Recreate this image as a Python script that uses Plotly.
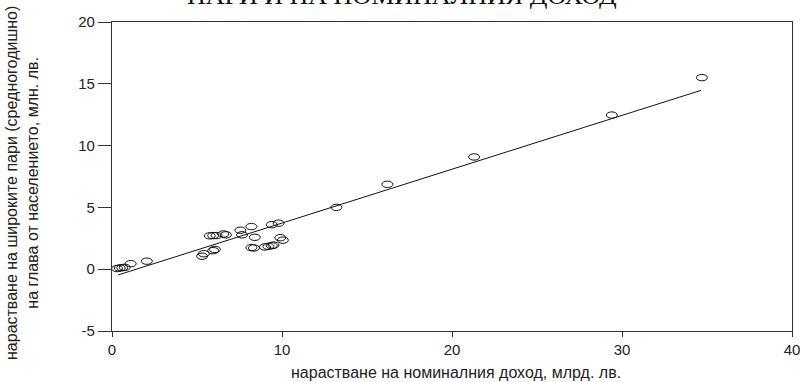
import plotly.graph_objects as go

# Observations: growth of nominal income (bn lv) vs growth of broad money per capita (mn lv)
income_growth = [0.3, 0.45, 0.6, 0.75, 1.1, 2.05,
                 5.3, 5.4, 5.95, 6.05,
                 5.75, 5.95, 6.15, 6.55, 6.7,
                 7.55, 8.2, 7.65, 8.4,
                 8.2, 8.35,
                 9.0, 9.2, 9.4, 9.5,
                 9.4, 9.8, 9.9, 10.05,
                 13.2, 16.2, 21.3, 29.4, 34.7]
money_growth = [0.05, 0.1, 0.12, 0.15, 0.45, 0.65,
                1.05, 1.25, 1.5, 1.6,
                2.7, 2.72, 2.72, 2.85, 2.78,
                3.15, 3.45, 2.78, 2.58,
                1.75, 1.72,
                1.8, 1.85, 1.9, 1.95,
                3.6, 3.72, 2.55, 2.35,
                5.0, 6.87, 9.08, 12.47, 15.5]

# Fitted regression line end points
fit_x = [0.35, 34.65]
fit_y = [-0.47, 14.47]

x_ticks = [0, 10, 20, 30, 40]
y_ticks = [-5, 0, 5, 10, 15, 20]

title_text = "ПАРИ И НА НОМИНАЛНИЯ ДОХОД"
x_title = "нарастване на номиналния доход, млрд. лв."
y_title = "нарастване на широките пари (средногодишно)<br>на глава от населението, млн. лв."

# plot area in pixels
W, H = 800, 382
L, R, T, B = 112, 8, 22, 51
PW, PH = W - L - R, H - T - B

fig = go.Figure()

fig.add_trace(go.Scatter(
    x=fit_x, y=fit_y, mode="lines",
    line=dict(color="#111111", width=1),
    hoverinfo="skip", showlegend=False,
))

# invisible markers keep hover; the visible marks are pixel-sized ellipses
fig.add_trace(go.Scatter(
    x=income_growth, y=money_growth, mode="markers",
    marker=dict(size=10, color="rgba(0,0,0,0)"),
    showlegend=False,
))

for xv, yv in zip(income_growth, money_growth):
    fig.add_shape(
        type="circle", xref="x", yref="y",
        xsizemode="pixel", ysizemode="pixel",
        xanchor=xv, yanchor=yv,
        x0=-5.5, x1=5.5, y0=-3.2, y1=3.2,
        line=dict(color="#111111", width=1),
        fillcolor="rgba(0,0,0,0)",
    )

sans = "Liberation Sans, Arial, sans-serif"
axis_font = dict(family=sans, size=15, color="#222222")
title_font = dict(family=sans, size=16, color="#222222")

fig.update_layout(
    width=W, height=H,
    margin=dict(l=L, r=R, t=T, b=B, autoexpand=False),
    paper_bgcolor="white", plot_bgcolor="white",
    showlegend=False,
    xaxis=dict(
        range=[0, 40], tickvals=x_ticks, ticktext=[str(v) for v in x_ticks],
        showgrid=False, zeroline=False, automargin=False,
        ticklabeloverflow="allow",
        showline=True, linecolor="#333333", linewidth=1.2, mirror=True,
        ticks="outside", ticklen=5, tickcolor="#333333", tickwidth=1,
        tickfont=axis_font,
    ),
    yaxis=dict(
        range=[-5, 20], tickvals=y_ticks, ticktext=[str(v) for v in y_ticks],
        showgrid=False, zeroline=False, automargin=False,
        showline=True, linecolor="#333333", linewidth=1.2, mirror=True,
        ticks="outside", ticklen=13, tickcolor="#333333", tickwidth=1,
        tickfont=axis_font,
    ),
    annotations=[
        dict(
            text=title_text, xref="paper", yref="paper",
            x=(402 - L) / PW, y=1 + (T - 12) / PH,
            xanchor="center", yanchor="bottom", showarrow=False,
            font=dict(family="Liberation Serif, Times New Roman, serif", size=26, color="#111111"),
        ),
        dict(
            text=x_title, xref="paper", yref="paper",
            x=(456 - L) / PW, y=-(372 - T - PH) / PH,
            xanchor="center", yanchor="middle", showarrow=False,
            font=title_font,
        ),
        dict(
            text=y_title, xref="paper", yref="paper",
            x=(22 - L) / PW, y=(T + PH - 183) / PH,
            xanchor="center", yanchor="middle", showarrow=False,
            textangle=-90, font=title_font,
        ),
    ],
)

fig.write_html("out.html")
